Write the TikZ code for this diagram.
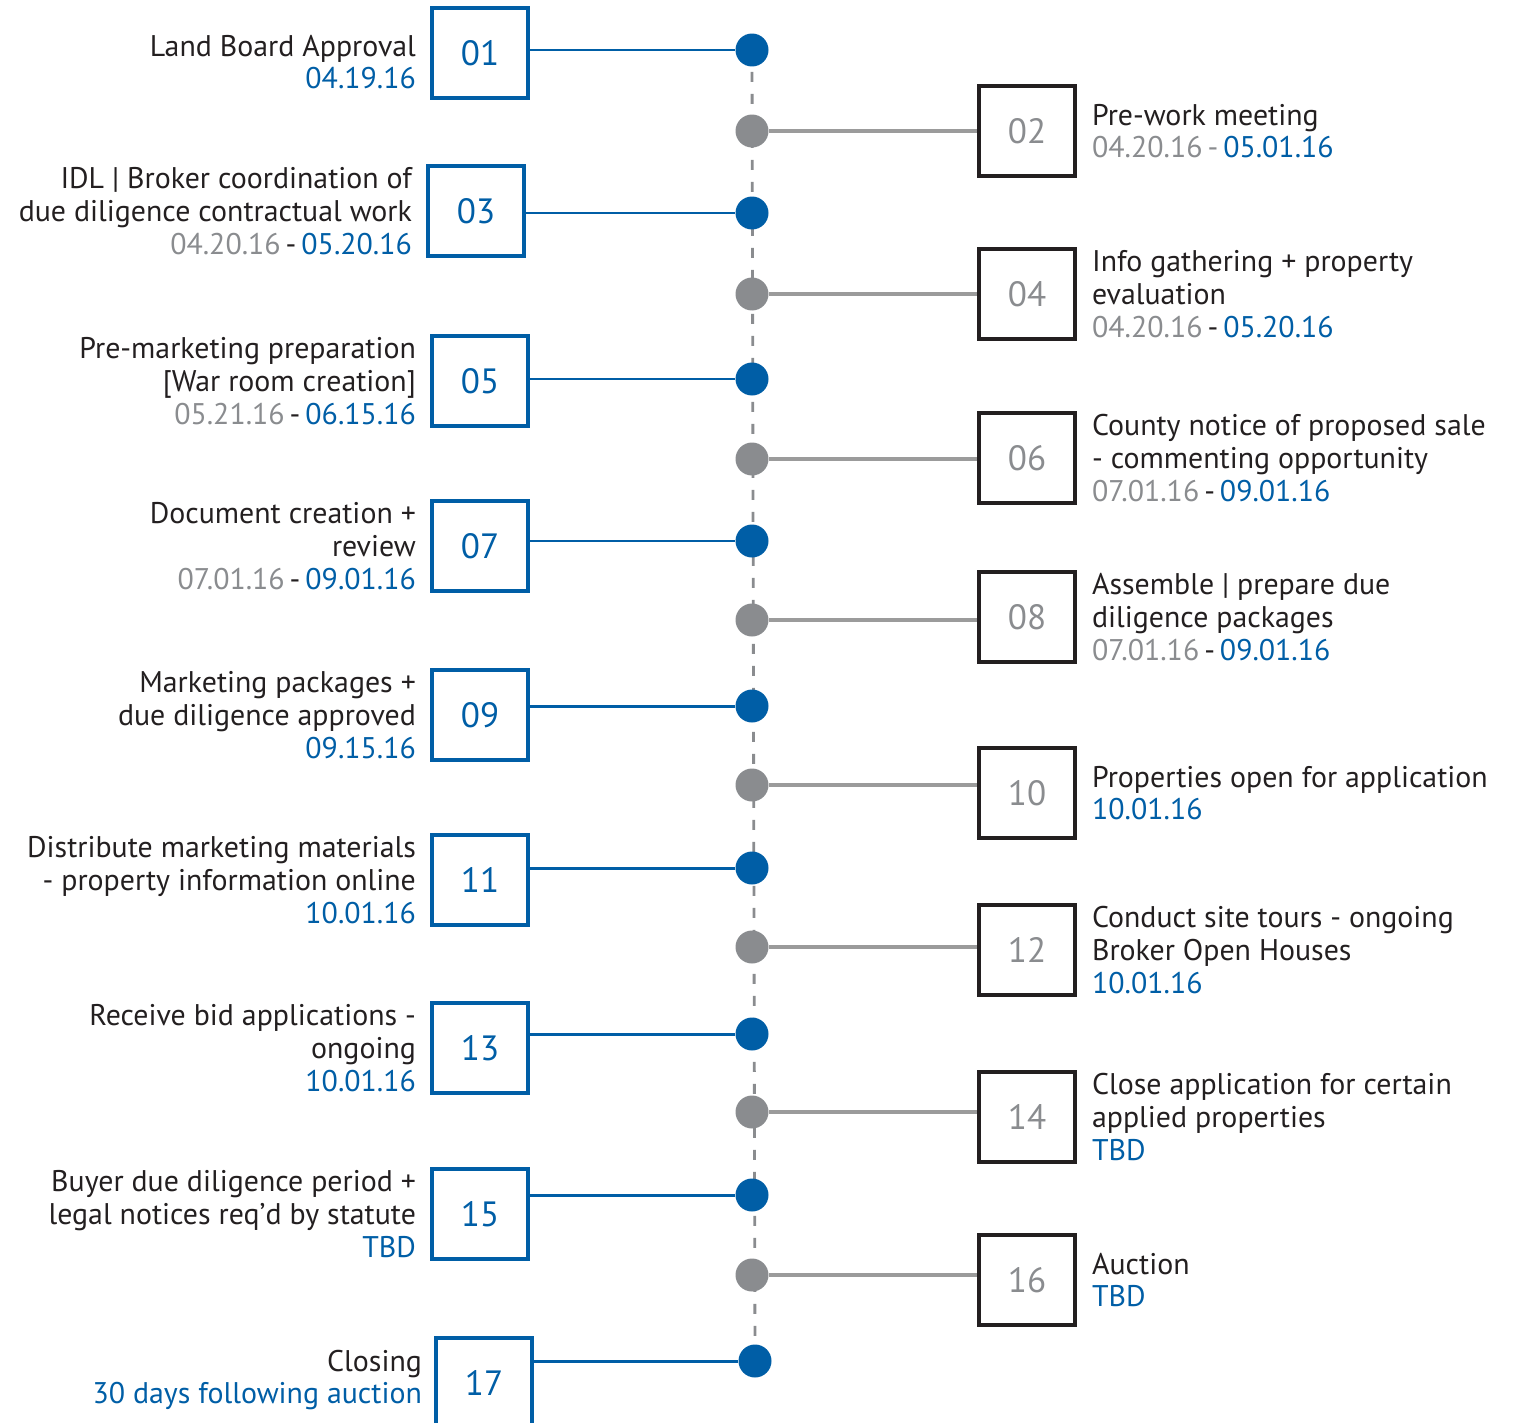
\documentclass[tikz,border=0pt]{standalone}
\usepackage{fontspec}
\setmainfont{PT Sans}
\usetikzlibrary{positioning,backgrounds}

\definecolor{tlblue}{RGB}{0,94,166}
\definecolor{tlgrey}{RGB}{138,140,143}
\definecolor{tlline}{RGB}{155,155,155}
\definecolor{tlink}{RGB}{35,31,32}

\newcommand\Dt[1]{{\color{tlgrey}#1}}
\newcommand\Db[1]{{\color{tlblue}#1}}
\newcommand\Dsep{\,-\,}

\tikzset{
  lbox/.style={draw=tlblue, line width=2pt, minimum width=1.92cm, minimum height=1.8cm,
    inner sep=0pt, text=tlblue, font=\fontsize{20}{22}\selectfont},
  rbox/.style={draw=tlink, line width=2pt, minimum width=1.92cm, minimum height=1.8cm,
    inner sep=0pt, text=tlgrey, font=\fontsize{20}{22}\selectfont},
  bdot/.style={circle, fill=tlblue, minimum size=0.66cm, inner sep=0pt},
  gdot/.style={circle, fill=tlgrey, minimum size=0.66cm, inner sep=0pt},
  blink/.style={tlblue, line width=1.7pt},
  glink/.style={tlline, line width=1.8pt},
  spine/.style={tlgrey, line width=1.6pt, dash pattern=on 0.2cm off 0.24cm},
  ltext/.style={align=right, inner sep=0pt, text=tlink, font=\fontsize{17}{18.6}\selectfont},
  rtext/.style={align=left, inner sep=0pt, text=tlink, font=\fontsize{17}{18.6}\selectfont},
}

\begin{document}
\begin{tikzpicture}[x=0.02cm, y=-0.02cm]

\newcommand\LX{480}
\newcommand\RX{1027}
\newcommand\MX{752}

\useasboundingbox (0,0) rectangle (1525,1423);

%% left column
\node[lbox] (b01) at (\LX, 53) {01};
\node[lbox] (b03) at (476, 211) {03};
\node[lbox] (b05) at (\LX, 381) {05};
\node[lbox] (b07) at (\LX, 546) {07};
\node[lbox] (b09) at (\LX, 715) {09};
\node[lbox] (b11) at (\LX, 880) {11};
\node[lbox] (b13) at (\LX, 1048) {13};
\node[lbox] (b15) at (\LX, 1214) {15};
\node[lbox] (b17) at (484, 1383) {17};

%% right column
\node[rbox] (b02) at (\RX, 131) {02};
\node[rbox] (b04) at (\RX, 294) {04};
\node[rbox] (b06) at (\RX, 458) {06};
\node[rbox] (b08) at (\RX, 617) {08};
\node[rbox] (b10) at (\RX, 793) {10};
\node[rbox] (b12) at (\RX, 950) {12};
\node[rbox] (b14) at (\RX, 1117) {14};
\node[rbox] (b16) at (\RX, 1280) {16};

%% dots on the spine
\node[bdot] (d01) at (\MX, 50) {};
\node[gdot] (d02) at (\MX, 131) {};
\node[bdot] (d03) at (\MX, 213) {};
\node[gdot] (d04) at (\MX, 294) {};
\node[bdot] (d05) at (\MX, 379) {};
\node[gdot] (d06) at (\MX, 459) {};
\node[bdot] (d07) at (\MX, 541) {};
\node[gdot] (d08) at (\MX, 620) {};
\node[bdot] (d09) at (\MX, 706) {};
\node[gdot] (d10) at (\MX, 785) {};
\node[bdot] (d11) at (\MX, 868) {};
\node[gdot] (d12) at (\MX, 947) {};
\node[bdot] (d13) at (\MX, 1034) {};
\node[gdot] (d14) at (\MX, 1112) {};
\node[bdot] (d15) at (\MX, 1195) {};
\node[gdot] (d16) at (\MX, 1275) {};
\node[bdot] (d17) at (755, 1361) {};

\begin{scope}[on background layer]
\draw[spine] (d01.center) -- (d17.center);
\end{scope}

%% connectors
\draw[blink] (d01) -- (d01 -| b01.east);
\draw[blink] (d03) -- (d03 -| b03.east);
\draw[blink] (d05) -- (d05 -| b05.east);
\draw[blink] (d07) -- (d07 -| b07.east);
\draw[blink] (d09) -- (d09 -| b09.east);
\draw[blink] (d11) -- (d11 -| b11.east);
\draw[blink] (d13) -- (d13 -| b13.east);
\draw[blink] (d15) -- (d15 -| b15.east);
\draw[blink] (d17) -- (d17 -| b17.east);

\draw[glink] (d02) -- (d02 -| b02.west);
\draw[glink] (d04) -- (d04 -| b04.west);
\draw[glink] (d06) -- (d06 -| b06.west);
\draw[glink] (d08) -- (d08 -| b08.west);
\draw[glink] (d10) -- (d10 -| b10.west);
\draw[glink] (d12) -- (d12 -| b12.west);
\draw[glink] (d14) -- (d14 -| b14.west);
\draw[glink] (d16) -- (d16 -| b16.west);

%% left labels
\node[ltext, left=0.28cm of b01, yshift=-0.18cm] (t01) {Land Board Approval\\\Db{04.19.16}};
\node[ltext, left=0.28cm of b03] (t03) {IDL | Broker coordination of\\due diligence contractual work\\\Dt{04.20.16}\Dsep\Db{05.20.16}};
\node[ltext, left=0.28cm of b05] (t05) {Pre-marketing preparation\\{[}War room creation{]}\\\Dt{05.21.16}\Dsep\Db{06.15.16}};
\node[ltext, left=0.28cm of b07] (t07) {Document creation +\\review\\\Dt{07.01.16}\Dsep\Db{09.01.16}};
\node[ltext, left=0.28cm of b09] (t09) {Marketing packages +\\due diligence approved\\\Db{09.15.16}};
\node[ltext, left=0.28cm of b11] (t11) {Distribute marketing materials\\- property information online\\\Db{10.01.16}};
\node[ltext, left=0.28cm of b13] (t13) {Receive bid applications -\\ongoing\\\Db{10.01.16}};
\node[ltext, left=0.28cm of b15] (t15) {Buyer due diligence period +\\legal notices req'd by statute\\\Db{TBD}};
\node[ltext, left=0.24cm of b17, yshift=0.06cm] (t17) {Closing\\\Db{30 days following auction}};

%% right labels
\node[rtext, right=0.3cm of b02] (t02) {Pre-work meeting\\\Dt{04.20.16\Dsep}\Db{05.01.16}};
\node[rtext, right=0.3cm of b04] (t04) {Info gathering + property\\evaluation\\\Dt{04.20.16}\Dsep\Db{05.20.16}};
\node[rtext, right=0.3cm of b06] (t06) {County notice of proposed sale\\- commenting opportunity\\\Dt{07.01.16}\Dsep\Db{09.01.16}};
\node[rtext, right=0.3cm of b08] (t08) {Assemble | prepare due\\diligence packages\\\Dt{07.01.16}\Dsep\Db{09.01.16}};
\node[rtext, right=0.3cm of b10] (t10) {Properties open for application\\\Db{10.01.16}};
\node[rtext, right=0.3cm of b12] (t12) {Conduct site tours - ongoing\\Broker Open Houses\\\Db{10.01.16}};
\node[rtext, right=0.3cm of b14] (t14) {Close application for certain\\applied properties\\\Db{TBD}};
\node[rtext, right=0.3cm of b16] (t16) {Auction\\\Db{TBD}};

\end{tikzpicture}
\end{document}
